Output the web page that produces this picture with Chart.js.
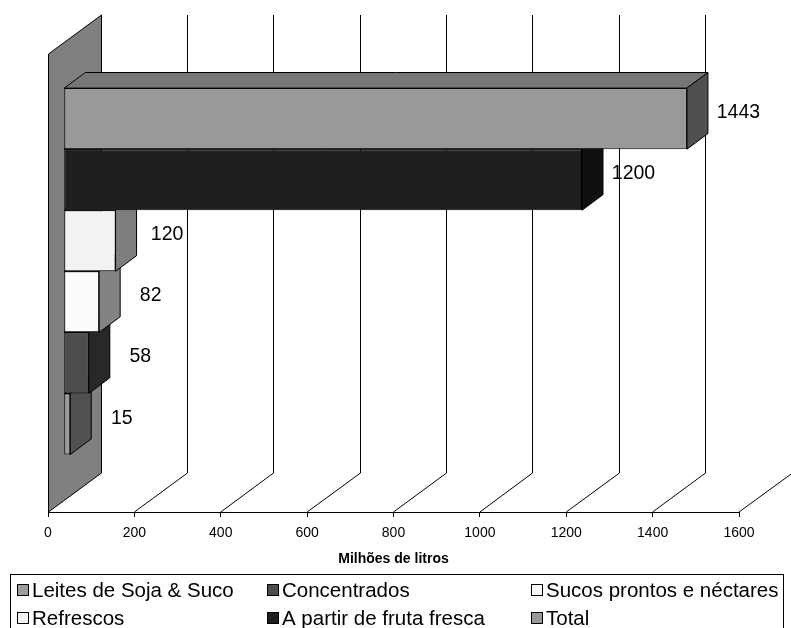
<!DOCTYPE html>
<html>
<head>
<meta charset="utf-8">
<script src="https://cdn.jsdelivr.net/npm/chart.js@4.4.1/dist/chart.umd.min.js"></script>
<style>
  html, body { margin: 0; padding: 0; background: #ffffff; }
  #wrap { width: 791px; height: 628px; }
</style>
</head>
<body>
<div id="wrap"><canvas id="chart" width="791" height="628"></canvas></div>
<script>
// Juice-market volumes (millions of litres), listed from the top bar down
const seriesNames  = ['Total', 'A partir de fruta fresca', 'Refrescos', 'Sucos prontos e néctares', 'Concentrados', 'Leites de Soja & Suco'];
const seriesValues = [1443, 1200, 120, 82, 58, 15];
const categories   = [''];
const xTicks       = [0, 200, 400, 600, 800, 1000, 1200, 1400, 1600];
const axisTitle    = 'Milhões de litros';

// Front-face fill of each series (same order as above)
const frontColors = ['#999999', '#1f1f1f', '#f2f2f2', '#fcfcfc', '#4d4d4d', '#9c9c9c'];

const FONT = "'Liberation Sans', Arial, sans-serif";
Chart.defaults.font.family = FONT;
Chart.defaults.color = '#000';

// Oblique projection of the plot's depth axis
const DEPTH = { x: 52.5, y: -39 };
const BAR_FRONT = 0.3;   // bars sit between 30% and 70% of the depth
const BAR_DEPTH = 0.4;

function shade(hex, f) {
  const n = parseInt(hex.slice(1), 16);
  const r = Math.round(((n >> 16) & 255) * f);
  const g = Math.round(((n >> 8) & 255) * f);
  const b = Math.round((n & 255) * f);
  return `rgb(${r},${g},${b})`;
}

function poly(ctx, pts, fill) {
  ctx.beginPath();
  ctx.moveTo(pts[0][0], pts[0][1]);
  for (let i = 1; i < pts.length; i++) ctx.lineTo(pts[i][0], pts[i][1]);
  ctx.closePath();
  if (fill) { ctx.fillStyle = fill; ctx.fill(); }
  ctx.stroke();
}

// Side wall, back gridlines and floor lines, plus the 3D sides of each bar
const scene3d = {
  id: 'scene3d',
  beforeDatasetsDraw(chart) {
    const { ctx, chartArea: a, scales: { x } } = chart;
    ctx.save();
    ctx.lineWidth = 1;
    ctx.strokeStyle = '#000';
    xTicks.forEach(v => {
      if (v === 0) return;
      const fx = x.getPixelForValue(v);
      const bx = Math.round(fx + DEPTH.x) + 0.5;
      ctx.beginPath();
      ctx.moveTo(fx, a.bottom);
      ctx.lineTo(bx, a.bottom + DEPTH.y);
      ctx.lineTo(bx, a.top + DEPTH.y);
      ctx.stroke();
    });
    const x0 = Math.round(x.getPixelForValue(0)) + 0.5;
    const bx0 = Math.round(x0 + DEPTH.x) + 0.5;
    poly(ctx, [
      [x0, a.top], [bx0, a.top + DEPTH.y],
      [bx0, a.bottom + DEPTH.y], [x0, a.bottom]
    ], '#808080');
    ctx.restore();
  },
  beforeDatasetDraw(chart, args) {
    const { ctx } = chart;
    const color = frontColors[args.index];
    ctx.save();
    ctx.translate(DEPTH.x * BAR_FRONT, DEPTH.y * BAR_FRONT);
    const dx = DEPTH.x * BAR_DEPTH, dy = DEPTH.y * BAR_DEPTH;
    ctx.lineWidth = 1;
    ctx.strokeStyle = '#000';
    args.meta.data.forEach(el => {
      const p = el.getProps(['x', 'y', 'base', 'height'], true);
      const l = Math.min(p.x, p.base), r = Math.max(p.x, p.base);
      const t = p.y - p.height / 2, b = p.y + p.height / 2;
      poly(ctx, [[l, t], [r, t], [r + dx, t + dy], [l + dx, t + dy]], shade(color, 0.78));
      poly(ctx, [[r, t], [r + dx, t + dy], [r + dx, b + dy], [r, b]], shade(color, 0.52));
    });
  },
  afterDatasetDraw(chart) {
    chart.ctx.restore();
  },
  afterDatasetsDraw(chart) {
    const { ctx } = chart;
    ctx.save();
    ctx.font = `19.5px ${FONT}`;
    ctx.fillStyle = '#000';
    ctx.textAlign = 'center';
    ctx.textBaseline = 'middle';
    chart.data.datasets.forEach((ds, i) => {
      const meta = chart.getDatasetMeta(i);
      meta.data.forEach((el, j) => {
        const p = el.getProps(['x', 'y'], true);
        const ax = p.x + DEPTH.x * 0.5;
        const ay = p.y + DEPTH.y * 0.5;
        ctx.fillText(String(ds.data[j]), ax + 41, ay + 2);
      });
    });
    ctx.restore();
  },
  afterDraw(chart) {
    // Legend box: three columns, two rows, listed from the bottom bar up
    const { ctx } = chart;
    ctx.save();
    ctx.lineWidth = 1;
    ctx.strokeStyle = '#000';
    ctx.strokeRect(10.5, 574.5, 773, 80);
    ctx.font = `20.5px ${FONT}`;
    ctx.textBaseline = 'alphabetic';
    ctx.textAlign = 'left';
    const cols = [17, 267, 531];
    const rows = [597, 625];
    const order = chart.data.datasets.map((d, i) => i).reverse();
    order.forEach((di, k) => {
      const sx = cols[k % 3], base = rows[Math.floor(k / 3)];
      ctx.fillStyle = frontColors[di];
      ctx.fillRect(sx + 0.5, base - 12.5, 11, 11);
      ctx.strokeRect(sx + 0.5, base - 12.5, 11, 11);
      ctx.fillStyle = '#000';
      ctx.fillText(chart.data.datasets[di].label, sx + 15, base);
    });
    ctx.restore();
  }
};

new Chart(document.getElementById('chart'), {
  type: 'bar',
  data: {
    labels: categories,
    datasets: seriesNames.map((name, i) => ({
      label: name,
      data: [seriesValues[i]],
      backgroundColor: frontColors[i],
      borderColor: '#000',
      borderWidth: 1,
      borderSkipped: false,
      categoryPercentage: 0.8,
      barPercentage: 1,
      clip: false
    }))
  },
  options: {
    indexAxis: 'y',
    responsive: false,
    animation: false,
    devicePixelRatio: 1,
    layout: { padding: { left: 48, right: 52, top: 54, bottom: 0 } },
    plugins: { legend: { display: false }, tooltip: { enabled: false } },
    scales: {
      x: {
        type: 'linear',
        position: 'bottom',
        min: 0,
        max: 1600,
        afterBuildTicks(s) { s.ticks = xTicks.map(v => ({ value: v })); },
        afterFit(s) { s.height = 116; },
        ticks: {
          autoSkip: false, maxRotation: 0, padding: 8, color: '#000', font: { size: 14 },
          callback: v => String(v)
        },
        grid: { display: true, drawOnChartArea: false, drawTicks: true, tickLength: 5, color: '#000', lineWidth: 1 },
        border: { display: true, color: '#000', width: 1 },
        title: {
          display: true,
          text: axisTitle,
          color: '#000',
          font: { size: 14, weight: 'bold' },
          padding: { top: 4, bottom: 60 }
        }
      },
      y: { type: 'category', labels: categories, display: false }
    }
  },
  plugins: [scene3d]
});
</script>
</body>
</html>
